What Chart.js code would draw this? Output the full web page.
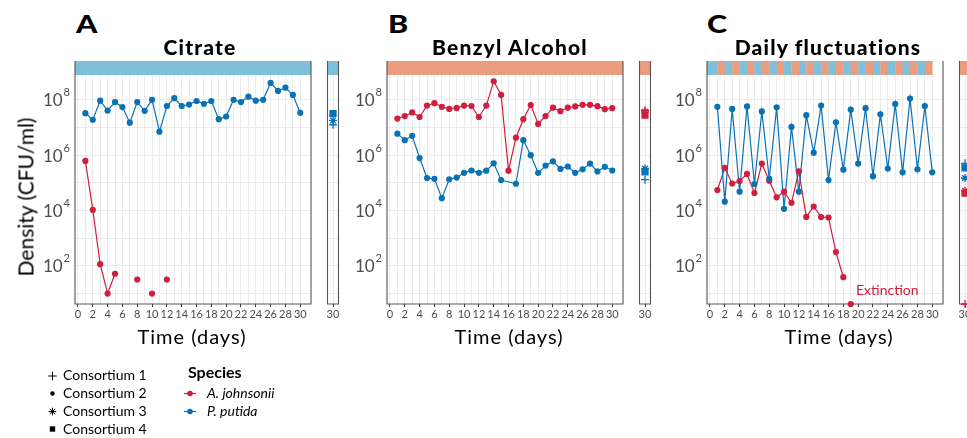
<!DOCTYPE html>
<html>
<head>
<meta charset="utf-8">
<title>Consortium densities</title>
<script src="https://cdn.jsdelivr.net/npm/chart.js@4.4.1/dist/chart.umd.min.js"></script>
<style>
  body { margin: 0; background: #fff; }
  #wrap { position: relative; width: 967px; height: 438px; overflow: hidden; font-family: Lato, sans-serif; }
  canvas { position: absolute; }
  .t { position: absolute; line-height: 1; white-space: nowrap; color: #000; }
  .big { font-size: 25px; font-weight: 900; transform: scaleX(1.22); transform-origin: left; }
  .title { font-size: 21px; font-weight: 900; letter-spacing: 1.2px; transform: translateX(-50%); }
  .axis { font-size: 20px; letter-spacing: 1px; transform: translateX(-50%); }
  .leg { font-size: 14px; }
</style>
</head>
<body>
<div id="wrap">
  <canvas id="mainA" width="280" height="270" style="left:35px;top:55px"></canvas>
  <canvas id="sideA" width="22" height="270" style="left:322px;top:55px"></canvas>
  <canvas id="mainB" width="280" height="270" style="left:347px;top:55px"></canvas>
  <canvas id="sideB" width="22" height="270" style="left:634px;top:55px"></canvas>
  <canvas id="mainC" width="280" height="270" style="left:667px;top:55px"></canvas>
  <canvas id="sideC" width="22" height="270" style="left:954px;top:55px"></canvas>
  <canvas id="legend" width="240" height="73" style="left:0;top:365px"></canvas>

  <div class="t big" style="left:76px;top:11px">A</div>
  <div class="t big" style="left:388px;top:11px">B</div>
  <div class="t big" style="left:707px;top:11px">C</div>
  <div class="t title" style="left:200px;top:36px">Citrate</div>
  <div class="t title" style="left:510px;top:36px">Benzyl Alcohol</div>
  <div class="t title" style="left:828px;top:36px">Daily fluctuations</div>
  <div class="t axis" style="left:192px;top:326px">Time (days)</div>
  <div class="t axis" style="left:509px;top:326px">Time (days)</div>
  <div class="t axis" style="left:839px;top:326px">Time (days)</div>
  <div class="t" style="left:25px;top:197px;font-size:21px;transform:translate(-50%,-50%) rotate(-90deg)">Density (CFU/ml)</div>
  <div class="t" style="left:856px;top:283px;font-size:14px;color:#D11D3E">Extinction</div>

  <div class="t leg" style="left:63px;top:368px">Consortium 1</div>
  <div class="t leg" style="left:63px;top:386px">Consortium 2</div>
  <div class="t leg" style="left:63px;top:404px">Consortium 3</div>
  <div class="t leg" style="left:63px;top:422px">Consortium 4</div>
  <div class="t" style="left:188px;top:364px;font-size:16px;font-weight:bold">Species</div>
  <div class="t leg" style="left:207px;top:386px;font-style:italic">A. johnsonii</div>
  <div class="t leg" style="left:207px;top:404px;font-style:italic">P. putida</div>
</div>

<script>
// days sampled, x tick positions, y grid powers
const days = [1, 2, 3, 4, 5, 6, 7, 8, 9, 10, 11, 12, 13, 14, 15, 16, 17, 18, 19, 20, 21, 22, 23, 24, 25, 26, 27, 28, 29, 30];
const xTicks = [0, 1, 2, 3, 4, 5, 6, 7, 8, 9, 10, 11, 12, 13, 14, 15, 16, 17, 18, 19, 20, 21, 22, 23, 24, 25, 26, 27, 28, 29, 30];
const gridPowers = [1, 2, 3, 4, 5, 6, 7, 8];
const labelPowers = [2, 4, 6, 8];

// Consortium 2 densities (CFU/ml), A. johnsonii and P. putida
const citrateAj = [6.2e5, 1.05e4, 115, 10, 52, null, null, 32, null, 10, null, 32, null, null, null,
  null, null, null, null, null, null, null, null, null, null, null, null, null, null, null];
const citratePp = [3.3e7, 1.9e7, 9.3e7, 4.1e7, 8.3e7, 5.5e7, 1.5e7, 8.3e7, 4.0e7, 1.0e8, 7.1e6, 6.0e7, 1.15e8, 6.0e7, 6.8e7,
  9.1e7, 7.2e7, 9.1e7, 2.0e7, 2.5e7, 1.0e8, 8.3e7, 1.3e8, 9.3e7, 1.0e8, 4.1e8, 2.1e8, 2.75e8, 1.5e8, 3.4e7];
const benzylAj = [2.1e7, 2.6e7, 3.5e7, 2.4e7, 6.2e7, 7.6e7, 5.6e7, 4.7e7, 5.1e7, 6.2e7, 6.0e7, 2.4e7, 6.2e7, 4.7e8, 1.5e8,
  2.75e5, 4.3e6, 2.0e7, 6.5e7, 1.35e7, 2.6e7, 5.2e7, 3.9e7, 5.2e7, 5.8e7, 6.6e7, 6.6e7, 5.9e7, 4.6e7, 5.0e7];
const benzylPp = [6.0e6, 3.5e6, 5.0e6, 7.9e5, 1.5e5, 1.4e5, 2.8e4, 1.35e5, 1.55e5, 2.3e5, 2.8e5, 2.3e5, 2.75e5, 5.1e5, 1.26e5,
  null, 9.3e4, 3.5e6, 1.0e6, 2.3e5, 4.2e5, 6.0e5, 3.2e5, 3.9e5, 2.3e5, 3.1e5, 5.0e5, 2.6e5, 3.8e5, 2.8e5];
const dailyAj = [5.5e4, 3.5e5, 9.5e4, 1.17e5, 2.1e5, 4.3e4, 5.0e5, 1.2e5, 3.0e4, 4.8e4, 1.9e4, 2.6e5, 5.9e3, 1.4e4, 5.8e3,
  5.6e3, 316, 39, null, null, null, null, null, null, null, null, null, null, null, null];
const dailyPp = [5.6e7, 2.1e4, 4.7e7, 4.8e4, 5.8e7, 9.1e4, 3.8e7, 1.4e5, 5.4e7, 1.15e4, 1.05e7, 4.8e4, 2.8e7, 1.23e6, 6.2e7,
  1.26e5, 1.55e7, 3.0e5, 4.4e7, 5.0e5, 5.0e7, 1.74e5, 3.0e7, 3.3e5, 7.1e7, 2.4e5, 1.12e8, 3.1e5, 6.0e7, 2.4e5];
const dailyMedium = ['citrate', 'benzyl', 'citrate', 'benzyl', 'citrate', 'benzyl', 'citrate', 'benzyl', 'citrate', 'benzyl',
  'citrate', 'benzyl', 'citrate', 'benzyl', 'citrate', 'benzyl', 'citrate', 'benzyl', 'citrate', 'benzyl',
  'citrate', 'benzyl', 'citrate', 'benzyl', 'citrate', 'benzyl', 'citrate', 'benzyl', 'citrate', 'benzyl'];
const extinctDensity = 4.2;
const extinctionDay = 19;

// day 30 of the other consortia: [Consortium 1, Consortium 3, Consortium 4]
const sideConsortia = ['Consortium 1', 'Consortium 3', 'Consortium 4'];
const citrateSideAj = [null, null, null];
const citrateSidePp = [1.26e7, 1.8e7, 3.2e7];
const benzylSideAj = [4.2e7, 3.7e7, 2.8e7];
const benzylSidePp = [1.3e5, 3.3e5, 2.5e5];
const dailySideAj = [extinctDensity, 5.2e4, 4.3e4];
const dailySidePp = [5.1e5, 1.5e5, 3.5e5];

const RED = '#D11D3E', BLUE = '#0A72B4';
const STRIP_BLUE = '#7EBFDA', STRIP_SALMON = '#EB9C7F';
const GRID = '#EBEBEB', FRAME = '#555555', TICK_TXT = '#4D4D4D';
const STRIP_H = 14;
const PT = 3.1;
const shapes = ['cross', 'star', 'rect'];

const panelPlugin = {
  id: 'panel',
  beforeDatasetsDraw(chart, args, opts) {
    const { ctx, chartArea: a, scales: { x } } = chart;
    const top = a.top - STRIP_H;
    ctx.save();
    if (opts.cells) {
      opts.cells.forEach((m, i) => {
        const x0 = i === 0 ? a.left : x.getPixelForValue(days[i] - 1);
        const x1 = x.getPixelForValue(days[i]);
        ctx.fillStyle = m === 'citrate' ? STRIP_BLUE : STRIP_SALMON;
        ctx.fillRect(x0, top, x1 - x0 + 0.3, STRIP_H);
      });
    } else {
      ctx.fillStyle = opts.color;
      ctx.fillRect(a.left, top, a.right - a.left, STRIP_H);
    }
    ctx.strokeStyle = FRAME;
    ctx.lineWidth = 1.1;
    ctx.beginPath();
    ctx.moveTo(a.left, top);
    ctx.lineTo(a.left, a.bottom);
    ctx.lineTo(a.right, a.bottom);
    ctx.lineTo(a.right, top);
    ctx.stroke();
    ctx.restore();
  },
  afterDraw(chart, args, opts) {
    if (!opts.yLabels) return;
    const { ctx, chartArea: a, scales: { y } } = chart;
    ctx.save();
    ctx.fillStyle = TICK_TXT;
    ctx.textBaseline = 'middle';
    labelPowers.forEach(p => {
      const py = y.getPixelForValue(Math.pow(10, p));
      const right = a.left - 5;
      ctx.font = '11px Lato';
      const ew = ctx.measureText(String(p)).width;
      ctx.textAlign = 'left';
      ctx.fillText(String(p), right - ew, py - 7);
      ctx.font = '17px Lato';
      ctx.textAlign = 'right';
      ctx.fillText('10', right - ew - 1, py + 1);
    });
    ctx.restore();
  }
};
Chart.register(panelPlugin);

const toXY = vals => days.map((d, i) => ({ x: d, y: vals[i] }));

function yScale(width) {
  return {
    type: 'logarithmic',
    min: extinctDensity, max: 7.9e8,
    afterBuildTicks: s => { s.ticks = gridPowers.map(p => ({ value: Math.pow(10, p) })); },
    afterFit: s => { s.width = width; },
    ticks: { display: false },
    grid: { color: GRID, lineWidth: 1, drawTicks: false },
    border: { display: false }
  };
}

function xScale(min, max, ticks, labelFn) {
  return {
    type: 'linear', min, max,
    afterBuildTicks: s => { s.ticks = ticks.map(v => ({ value: v })); },
    afterFit: s => { s.height = 21; },
    ticks: {
      autoSkip: false, maxRotation: 0, padding: 1,
      color: TICK_TXT, font: { family: 'Lato', size: 11 },
      callback: labelFn
    },
    grid: {
      color: GRID, lineWidth: 1, tickLength: 3,
      tickColor: c => (c.tick && c.tick.value % 2 === 0 ? '#333' : 'rgba(0,0,0,0)')
    },
    border: { display: false }
  };
}

function baseOptions(scales, panel) {
  return {
    responsive: false, animation: false, devicePixelRatio: 1, events: [],
    layout: { padding: { top: 20, right: 2, left: 0, bottom: 0 } },
    plugins: { legend: { display: false }, tooltip: { enabled: false }, panel },
    scales
  };
}

function mainPanel(id, aj, pp, panel, extinct) {
  // lines under points; P. putida points on top
  const datasets = [
    { data: toXY(pp), showLine: false, pointRadius: PT, pointBorderWidth: 0, pointBackgroundColor: BLUE, order: 1 },
    { data: toXY(aj), showLine: false, pointRadius: PT, pointBorderWidth: 0, pointBackgroundColor: RED, order: 1 },
    { data: toXY(pp), pointRadius: 0, borderColor: BLUE, borderWidth: 1.2, spanGaps: true, order: 2 },
    { data: toXY(aj), pointRadius: 0, borderColor: RED, borderWidth: 1.2, spanGaps: false, order: 2 }
  ];
  if (extinct) {
    datasets.push({ data: [{ x: extinctionDay, y: extinctDensity }], showLine: false, clip: false,
      pointRadius: PT, pointBorderWidth: 0, pointBackgroundColor: RED, order: 0 });
  }
  new Chart(document.getElementById(id), {
    type: 'line',
    data: { datasets },
    options: baseOptions({
      x: xScale(-0.4, 31.45, xTicks, v => (v % 2 === 0 ? String(v) : '')),
      y: yScale(40)
    }, Object.assign({ yLabels: true }, panel))
  });
}

function sidePanel(id, aj, pp, color) {
  const datasets = [];
  [[pp, BLUE], [aj, RED]].forEach(([vals, c]) => {
    vals.forEach((v, k) => {
      if (v === null) return;
      datasets.push({
        label: sideConsortia[k],
        data: [{ x: 30, y: v }], showLine: false, clip: false,
        pointStyle: shapes[k], pointRadius: shapes[k] === 'rect' ? 4.2 : 4,
        pointBorderWidth: 1.3, pointBorderColor: c, pointBackgroundColor: c
      });
    });
  });
  new Chart(document.getElementById(id), {
    type: 'scatter',
    data: { datasets },
    options: baseOptions({
      x: xScale(29, 31, [30], v => String(v)),
      y: yScale(0)
    }, { color })
  });
}

mainPanel('mainA', citrateAj, citratePp, { color: STRIP_BLUE });
sidePanel('sideA', citrateSideAj, citrateSidePp, STRIP_BLUE);
mainPanel('mainB', benzylAj, benzylPp, { color: STRIP_SALMON });
sidePanel('sideB', benzylSideAj, benzylSidePp, STRIP_SALMON);
mainPanel('mainC', dailyAj, dailyPp, { cells: dailyMedium }, true);
sidePanel('sideC', dailySideAj, dailySidePp, STRIP_SALMON);

// legend keys
(function drawLegend() {
  const ctx = document.getElementById('legend').getContext('2d');
  const drawPoint = Chart.helpers.drawPoint;
  const keys = [
    { pointStyle: 'cross', radius: 4.2, y: 11 },
    { pointStyle: 'circle', radius: 2.2, y: 28.5 },
    { pointStyle: 'star', radius: 3.8, y: 46.5 },
    { pointStyle: 'rect', radius: 3.8, y: 64 }
  ];
  ctx.fillStyle = '#000';
  ctx.strokeStyle = '#000';
  keys.forEach(k => drawPoint(ctx, { pointStyle: k.pointStyle, radius: k.radius, borderWidth: k.pointStyle === 'circle' || k.pointStyle === 'rect' ? 0 : 1.3, rotation: 0 }, 52.5, k.y));
  [[RED, 28.5], [BLUE, 46.5]].forEach(([c, y]) => {
    ctx.strokeStyle = c;
    ctx.fillStyle = c;
    ctx.lineWidth = 1.2;
    ctx.beginPath();
    ctx.moveTo(184, y);
    ctx.lineTo(196, y);
    ctx.stroke();
    drawPoint(ctx, { pointStyle: 'circle', radius: 2.8, borderWidth: 0, rotation: 0 }, 190, y);
  });
})();
</script>
</body>
</html>
